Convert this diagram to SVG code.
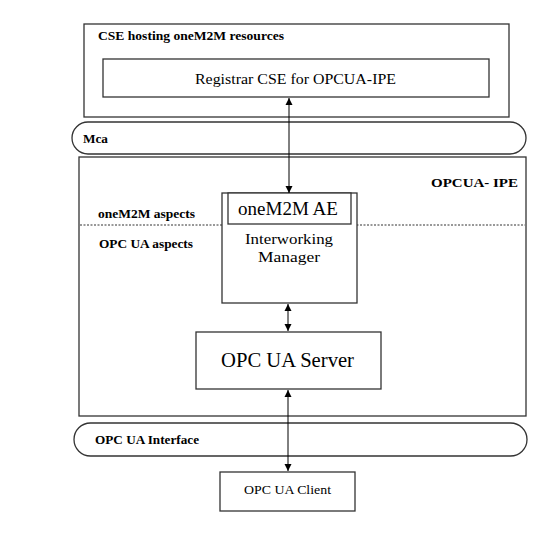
<svg xmlns="http://www.w3.org/2000/svg" width="555" height="541" viewBox="0 0 555 541">
<style>
.b{fill:#fff;stroke:#333;stroke-width:1.3}
.t{font-family:"Liberation Serif",serif;fill:#000}
.bl{font-family:"Liberation Serif",serif;font-weight:bold;font-size:12.5px;fill:#000}
.c{stroke:#000;stroke-width:1;fill:none}
</style>
<defs>
<marker id="ah" viewBox="0 0 10 10" refX="10" refY="5" markerWidth="7" markerHeight="9" orient="auto-start-reverse" markerUnits="userSpaceOnUse">
<path d="M0,0 L10,5 L0,10 z" fill="#000"/>
</marker>
</defs>
<rect width="555" height="541" fill="#fff"/>
<g id="cse">
<rect class="b" x="84" y="24" width="425" height="93"/>
<text class="bl" x="98" y="40" textLength="186" lengthAdjust="spacingAndGlyphs">CSE hosting oneM2M resources</text>
</g>
<g id="registrar">
<rect class="b" x="103" y="59" width="386" height="38"/>
<text class="t" x="195" y="84" font-size="15.5" textLength="201" lengthAdjust="spacingAndGlyphs">Registrar CSE for OPCUA-IPE</text>
</g>
<g id="mca">
<rect class="b" x="72" y="122" width="454" height="32" rx="16" ry="16"/>
<text class="bl" x="83" y="143" textLength="25" lengthAdjust="spacingAndGlyphs">Mca</text>
</g>
<g id="ipe">
<rect class="b" x="79" y="157" width="447" height="259"/>
<text class="bl" x="431" y="187" textLength="87" lengthAdjust="spacingAndGlyphs">OPCUA- IPE</text>
<line x1="80" y1="225" x2="525" y2="225" stroke="#333" stroke-width="1" stroke-dasharray="2,1.5"/>
<text class="bl" x="98" y="218" textLength="97" lengthAdjust="spacingAndGlyphs">oneM2M aspects</text>
<text class="bl" x="99" y="248" textLength="94" lengthAdjust="spacingAndGlyphs">OPC UA aspects</text>
</g>
<g id="ae">
<rect class="b" x="222" y="193" width="135" height="110"/>
<rect class="b" x="228" y="193" width="123" height="31"/>
<text class="t" x="238" y="215" font-size="18.5" textLength="100" lengthAdjust="spacingAndGlyphs">oneM2M AE</text>
<text class="t" x="245" y="244" font-size="15.5" textLength="88" lengthAdjust="spacingAndGlyphs">Interworking</text>
<text class="t" x="258" y="262" font-size="15.5" textLength="62" lengthAdjust="spacingAndGlyphs">Manager</text>
</g>
<g id="server">
<rect class="b" x="196" y="332" width="185" height="57"/>
<text class="t" x="221" y="367" font-size="20" textLength="133" lengthAdjust="spacingAndGlyphs">OPC UA Server</text>
</g>
<g id="iface">
<rect class="b" x="74" y="423" width="453" height="33" rx="16.5" ry="16.5"/>
<text class="bl" x="95" y="444" textLength="104" lengthAdjust="spacingAndGlyphs">OPC UA Interface</text>
</g>
<g id="client">
<rect class="b" x="220" y="472" width="135" height="39"/>
<text class="t" x="244" y="494" font-size="13.5" textLength="87" lengthAdjust="spacingAndGlyphs">OPC UA Client</text>
</g>
<g id="connectors">
<line class="c" x1="289" y1="193" x2="289" y2="98" marker-start="url(#ah)" marker-end="url(#ah)"/>
<line class="c" x1="288" y1="304" x2="288" y2="331" marker-start="url(#ah)" marker-end="url(#ah)"/>
<line class="c" x1="288" y1="390" x2="288" y2="471" marker-start="url(#ah)" marker-end="url(#ah)"/>
</g>
</svg>
